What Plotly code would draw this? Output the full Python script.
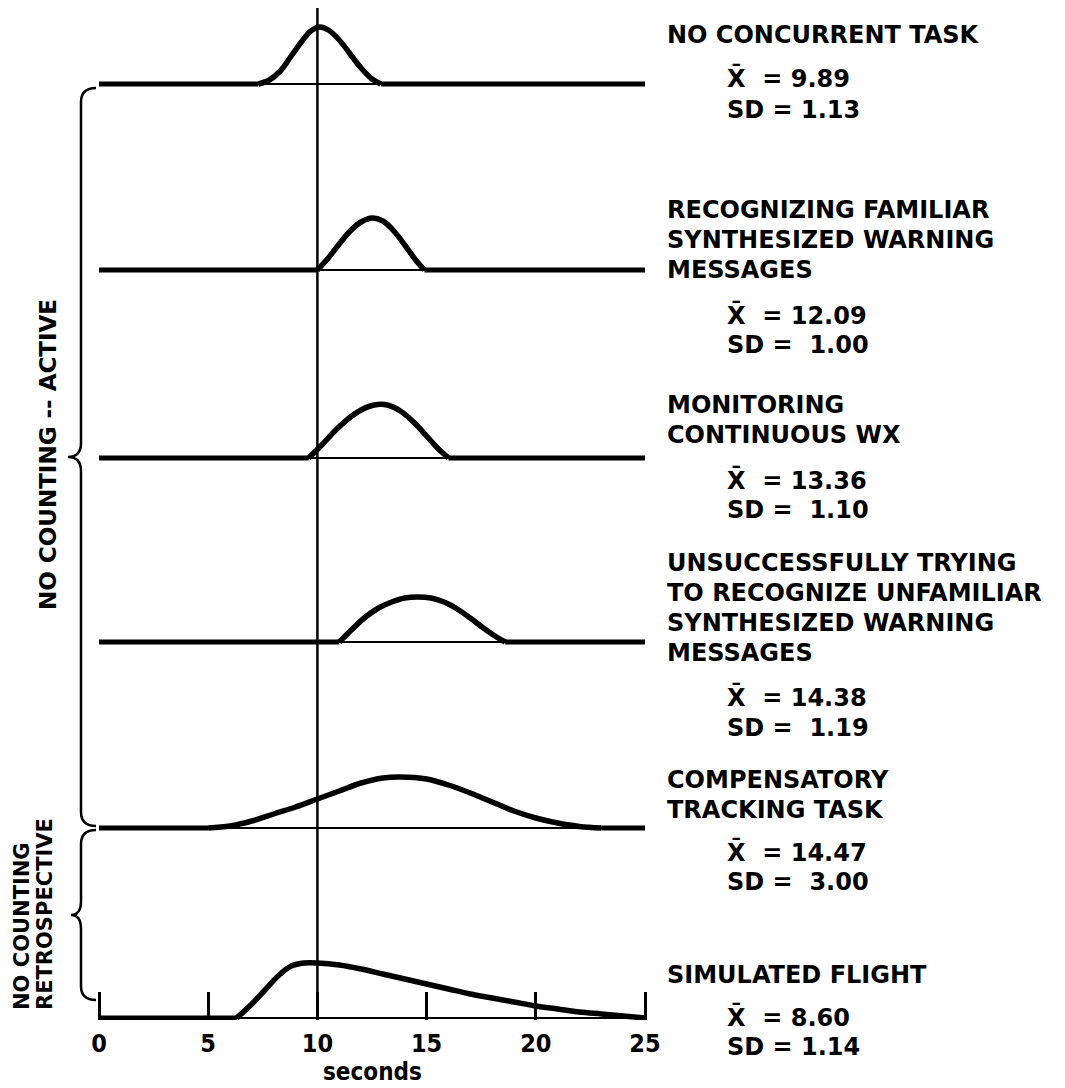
import plotly.graph_objects as go

# ---------------- data ----------------
seconds_ticks = [0, 5, 10, 15, 20, 25]
seconds_labels = ["0", "5", "10", "15", "20", "25"]
reference_second = 10

# distribution outlines: time (seconds) and relative height
no_task_t = [7.3, 7.8, 8.3, 8.8, 9.3, 9.7, 10.1, 10.5, 11.0, 11.5, 12.0, 12.5, 12.9]
no_task_h = [0, 4, 13, 28, 43, 53, 57, 54, 44, 30, 16, 5, 0]

familiar_t = [10.0, 10.5, 11.0, 11.5, 12.0, 12.5, 13.0, 13.5, 14.0, 14.5, 14.9]
familiar_h = [0, 12, 26, 39, 48, 52, 49, 39, 25, 10, 0]

wx_t = [9.6, 10.2, 10.8, 11.4, 12.0, 12.6, 13.2, 13.8, 14.4, 15.0, 15.5, 16.0]
wx_h = [0, 13, 27, 39, 48, 53, 53, 47, 36, 22, 10, 0]

unfamiliar_t = [11.0, 11.6, 12.2, 12.8, 13.4, 14.0, 14.6, 15.2, 15.8, 16.4, 17.0, 17.6, 18.2, 18.6]
unfamiliar_h = [0, 13, 25, 34, 40, 44, 45, 44, 40, 33, 24, 14, 5, 0]

tracking_t = [5.0, 6, 7, 8, 9, 10, 11, 12, 13, 13.8, 15, 16, 17, 18, 19, 20, 21, 22, 23]
tracking_h = [0, 2, 7, 14, 21, 29, 37, 45, 50, 51, 49, 43, 35, 26, 17, 10, 5, 1.5, 0]

flight_t = [6.3, 7.0, 7.6, 8.2, 8.8, 9.4, 10.0, 11, 12, 13, 14, 15, 16, 17, 18, 19, 20, 21, 22, 23, 24, 25]
flight_h = [0, 14, 28, 42, 52, 55, 55, 53, 49, 44, 39, 34, 29, 24, 20, 16, 12, 9, 6, 4, 2, 0]

condition_lines = [
    ["NO CONCURRENT TASK"],
    ["RECOGNIZING FAMILIAR", "SYNTHESIZED WARNING", "MESSAGES"],
    ["MONITORING", "CONTINUOUS WX"],
    ["UNSUCCESSFULLY TRYING", "TO RECOGNIZE UNFAMILIAR", "SYNTHESIZED WARNING", "MESSAGES"],
    ["COMPENSATORY", "TRACKING TASK"],
    ["SIMULATED FLIGHT"],
]
mean_values = ["9.89", "12.09", "13.36", "14.38", "14.47", "8.60"]
sd_values = ["1.13", "1.00", "1.10", "1.19", "3.00", "1.14"]

group_active = "NO COUNTING -- ACTIVE"
group_retro = ["NO COUNTING", "RETROSPECTIVE"]
axis_title = "seconds"

curves = [(no_task_t, no_task_h), (familiar_t, familiar_h), (wx_t, wx_h),
          (unfamiliar_t, unfamiliar_h), (tracking_t, tracking_h), (flight_t, flight_h)]

# ---------------- layout constants (screen pixels) ----------------
W, H = 1065, 1088
OFF = 8                      # page body margin
AXIS_PX = 1018
X0_PX, PX_PER_SEC = 99, 21.84
baseline_px = [84, 270, 458, 642, 828, 1018]
heading_px = [35, 210, 405, 563, 780, 975]
mean_px = [78, 315, 480, 697, 852, 1017]
sd_px = [110, 345, 510, 728, 882, 1047]
LINE_GAP = 30
TEXT_X, STAT_X = 665, 725

BOLD = "DejaVu Sans"
COND = "DejaVu Sans Condensed, DejaVu Sans"

PLOT_BOTTOM_FIG = AXIS_PX + 2 - OFF   # figure pixel of the plot-area bottom


def yd(py):
    return AXIS_PX - py


def xp(px):
    return (px - OFF) / W


def yp(py):
    return (PLOT_BOTTOM_FIG - (py - OFF)) / PLOT_BOTTOM_FIG


fig = go.Figure()
t_min, t_max = seconds_ticks[0], seconds_ticks[-1]

for (t, h), bpx in zip(curves, baseline_px):
    base = yd(bpx)
    fig.add_trace(go.Scatter(x=[t_min, t_max], y=[base, base], mode="lines",
                             line=dict(color="black", width=2.2), hoverinfo="skip"))
    if t[0] > t_min:
        fig.add_trace(go.Scatter(x=[t_min, t[0]], y=[base, base], mode="lines",
                                 line=dict(color="black", width=5), hoverinfo="skip"))
    if t[-1] < t_max:
        fig.add_trace(go.Scatter(x=[t[-1], t_max], y=[base, base], mode="lines",
                                 line=dict(color="black", width=5), hoverinfo="skip"))
    fig.add_trace(go.Scatter(x=t, y=[base + v for v in h], mode="lines",
                             line=dict(color="black", width=5.5, shape="spline", smoothing=1.0),
                             hoverinfo="skip"))

# reference line at 10 s
fig.add_trace(go.Scatter(x=[reference_second, reference_second], y=[0, yd(8)], mode="lines",
                         line=dict(color="black", width=2.5), hoverinfo="skip"))

annotations = []


def label(px, py, text, size=24, family=BOLD, xanchor="left", yanchor="middle", **kw):
    annotations.append(dict(x=xp(px), xref="paper", y=yp(py), yref="paper", text=text,
                            showarrow=False, xanchor=xanchor, yanchor=yanchor,
                            font=dict(family=family, size=size, color="black", weight="bold"), **kw))


for i, lines in enumerate(condition_lines):
    for k, txt in enumerate(lines):
        label(TEXT_X, heading_px[i] + k * LINE_GAP, txt)
    m, s = mean_values[i], sd_values[i]
    pad = "\u00a0" if len(m) > len(s) else ""
    label(STAT_X, mean_px[i], "X\u0304\u00a0\u00a0=\u00a0" + m)
    label(STAT_X, sd_px[i], "SD\u00a0=\u00a0" + pad + s)

# group labels (rotated)
label(48, 455, group_active, size=23, xanchor="center", textangle=-90)
for txt, px in zip(group_retro, [22, 45]):
    label(px, 1012, txt, size=21, xanchor="center", yanchor="bottom", textangle=-90)

# axis title, centred under the 0-25 s scale
label(X0_PX + PX_PER_SEC * (t_min + t_max) / 2, 1072, axis_title, size=24, family=COND,
      xanchor="center")


def brace(top, bot, x_hook=96, x_stem=81, x_tip=68, r=14):
    mid = (top + bot) / 2
    P = lambda px, py: f"{xp(px)},{yd(py)}"
    return (f"M {P(x_hook, top)} Q {P(x_stem, top)} {P(x_stem, top + r)} "
            f"L {P(x_stem, mid - r)} Q {P(x_stem, mid)} {P(x_tip, mid)} "
            f"Q {P(x_stem, mid)} {P(x_stem, mid + r)} "
            f"L {P(x_stem, bot - r)} Q {P(x_stem, bot)} {P(x_hook, bot)}")


shapes = [
    dict(type="path", xref="paper", yref="y", path=brace(baseline_px[0] + 4, baseline_px[4] - 2),
         line=dict(color="black", width=2.5)),
    dict(type="path", xref="paper", yref="y", path=brace(baseline_px[4] + 2, AXIS_PX - 18, x_tip=71),
         line=dict(color="black", width=2.5)),
]

fig.update_layout(
    width=W, height=H,
    margin=dict(l=0, r=0, t=0, b=H - PLOT_BOTTOM_FIG, autoexpand=False),
    paper_bgcolor="white", plot_bgcolor="white",
    showlegend=False,
    annotations=annotations,
    shapes=shapes,
    xaxis=dict(range=[(OFF - X0_PX) / PX_PER_SEC, (W + OFF - X0_PX) / PX_PER_SEC],
               tickvals=seconds_ticks, ticktext=seconds_labels,
               ticks="inside", ticklen=28, tickwidth=3, tickcolor="black",
               showgrid=False, zeroline=False, showline=False, fixedrange=True,
               ticklabelstandoff=6,
               tickfont=dict(family=COND, size=25, color="black", weight="bold")),
    yaxis=dict(range=[-2, AXIS_PX - OFF], visible=False, showgrid=False, zeroline=False,
               fixedrange=True),
)

fig.write_html("out.html")
